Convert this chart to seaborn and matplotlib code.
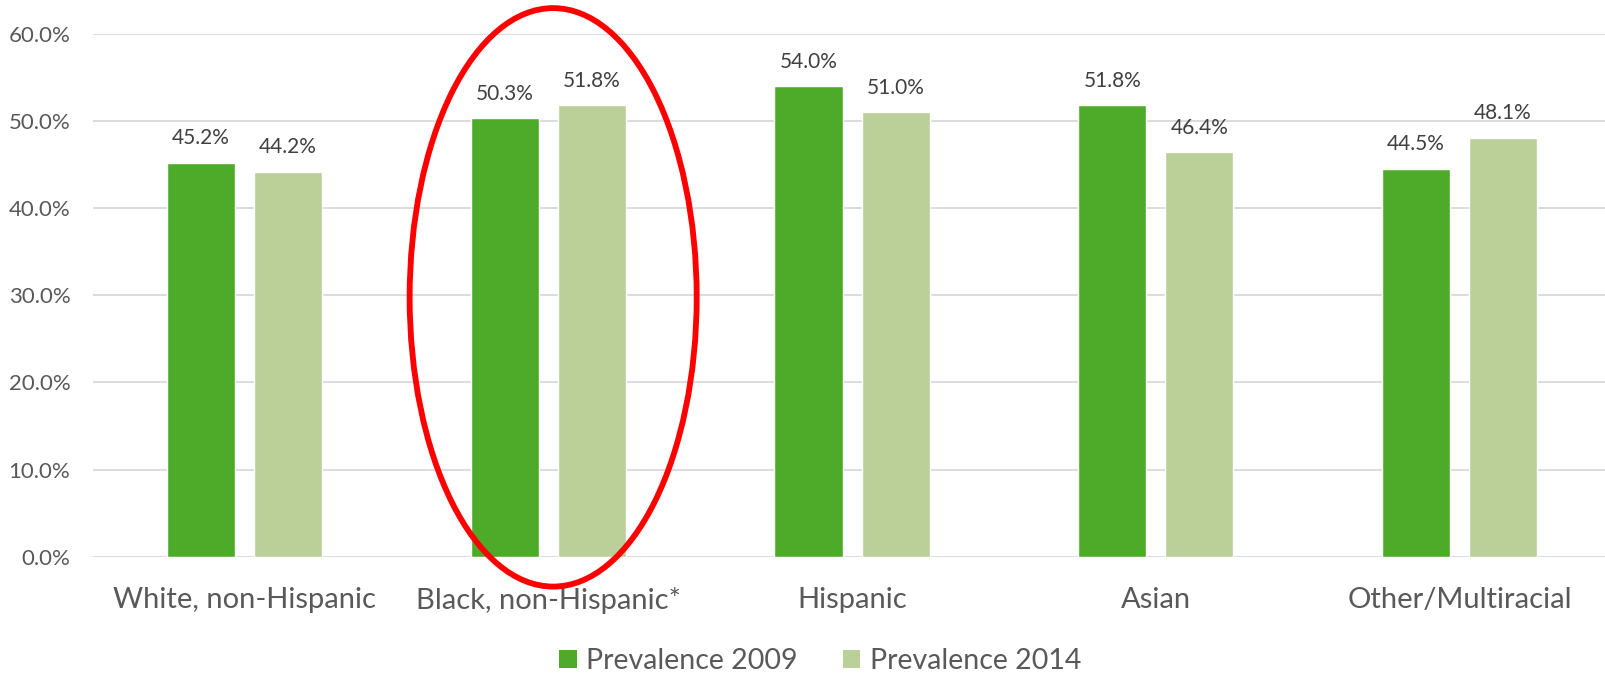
import matplotlib
matplotlib.use("Agg")
import matplotlib.pyplot as plt
from matplotlib.patches import Ellipse, Patch
import seaborn as sns
import pandas as pd

categories = ["White, non-Hispanic", "Black, non-Hispanic*", "Hispanic", "Asian", "Other/Multiracial"]
series_names = ["Prevalence 2009", "Prevalence 2014"]
prev_2009 = [0.452, 0.503, 0.540, 0.518, 0.445]
prev_2014 = [0.442, 0.518, 0.510, 0.464, 0.481]
y_ticks = [0.0, 0.1, 0.2, 0.3, 0.4, 0.5, 0.6]

colors = ["#4EAB29", "#BBCF99"]
text_gray = "#595959"
grid_gray = "#D9D9D9"

df = pd.DataFrame({
    "group": categories * 2,
    "series": [series_names[0]] * len(categories) + [series_names[1]] * len(categories),
    "value": prev_2009 + prev_2014,
})

sns.set_theme(style="white")
plt.rcParams["font.family"] = ["Lato", "DejaVu Sans"]

fig = plt.figure(figsize=(16.06, 6.73), dpi=100)
ax = fig.add_axes([0.0577, 0.1728, 0.9423, 0.9495 - 0.1728])

sns.barplot(data=df, x="group", y="value", hue="series", palette=colors,
            width=0.573, gap=0.217, saturation=1, ax=ax, legend=True)

ax.set_xlim(-0.5, 4.482)
ax.set_ylim(0, 0.6)
ax.set_yticks(y_ticks)
ax.set_yticklabels([f"{t:.1%}" for t in y_ticks])
ax.yaxis.grid(True, color=grid_gray, linewidth=1.3)
ax.set_axisbelow(True)
for s in ax.spines.values():
    s.set_visible(False)
ax.set_xlabel("")
ax.set_ylabel("")
ax.tick_params(axis="y", length=0, pad=16, labelsize=16, labelcolor=text_gray)
ax.tick_params(axis="x", length=0, pad=21.5, labelsize=21, labelcolor=text_gray)

for cont in ax.containers:
    ax.bar_label(cont, labels=[f"{v:.1%}" for v in cont.datavalues],
                 padding=10.5, fontsize=15, color="#404040")

# highlight around the second group
ell = Ellipse((1.016, 0.2977), width=0.945, height=0.664, fill=False,
              edgecolor="#FF0000", linewidth=4.2, clip_on=False, zorder=5)
ax.add_patch(ell)

handles = [Patch(facecolor=c, edgecolor="none") for c in colors]
ax.legend(handles, series_names, loc="center", bbox_to_anchor=(820 / 1606, 1 - 661 / 673),
          bbox_transform=fig.transFigure, ncol=2, frameon=False, fontsize=20.5,
          labelcolor=text_gray, handlelength=0.63, handleheight=0.63,
          handletextpad=0.32, columnspacing=1.58, borderpad=0.2)

fig.savefig("out.png", dpi=100)
